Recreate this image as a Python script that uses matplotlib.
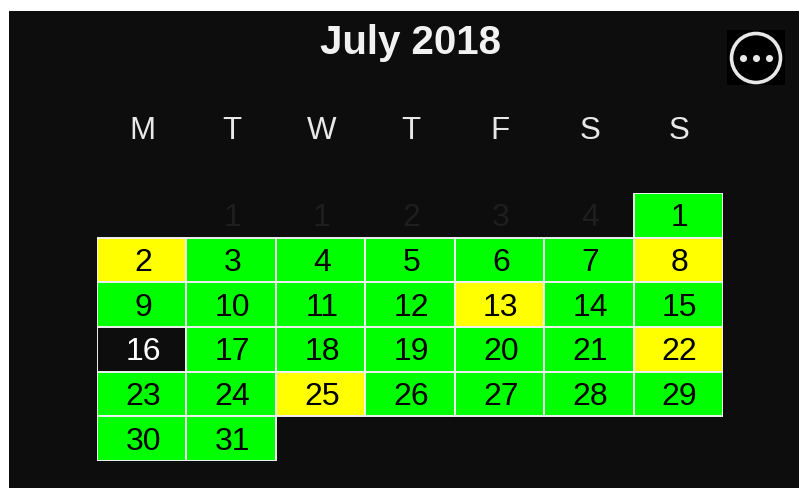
import matplotlib
matplotlib.use("Agg")
import matplotlib.pyplot as plt
from matplotlib.patches import Circle, Rectangle

plt.rcParams['font.family'] = ['Liberation Sans', 'DejaVu Sans']

W, H = 799, 488

title = 'July 2018'
weekdays = ['M', 'T', 'W', 'T', 'F', 'S', 'S']
prev_labels = ['1', '1', '2', '3', '4']
days = list(range(1, 32))
yellow_days = [2, 8, 13, 22, 25]
black_days = [16]

GREEN = '#00ff00'
YELLOW = '#ffff00'
DARK = '#0d0d0d'

fig = plt.figure(figsize=(W / 100, H / 100), dpi=100, facecolor='white')

# dark panel, leaves the white strip top and left
bg = fig.add_axes([9 / W, 0, (W - 9) / W, (H - 11) / H])
bg.set_facecolor(DARK)
bg.set_xticks([])
bg.set_yticks([])
for s in bg.spines.values():
    s.set_visible(False)

# calendar grid: one unit per cell, row 0 on top
ax = fig.add_axes([97 / W, (H - 461) / H, 626 / W, 268 / H])
ax.set_xlim(0, 7)
ax.set_ylim(6, 0)
ax.axis('off')

for day in days:
    pos = day + 5
    col, row = pos % 7, pos // 7
    if day in yellow_days:
        face, txt = YELLOW, 'black'
    elif day in black_days:
        face, txt = DARK, 'white'
    else:
        face, txt = GREEN, 'black'
    ax.bar(col + 0.5, 1, bottom=row, width=1, color=face,
           edgecolor='#f0f0f0', linewidth=1.4, zorder=2)
    ax.text(col + 0.515, row + 0.565, str(day), ha='center', va='center',
            fontsize=23, color=txt, zorder=3)

# last days of previous month, nearly invisible on the dark panel
for i, label in enumerate(prev_labels):
    ax.text(i + 1.515, 0.565, label, ha='center', va='center',
            fontsize=23, color='#1e1e1e', zorder=1)

for i, label in enumerate(weekdays):
    ax.text(i + 0.51, -1.38, label, ha='center', va='center',
            fontsize=22.5, color='#e8e8e8')

ax.text(3.5, -3.35, title, ha='center', va='center',
        fontsize=29, fontweight='bold', color='#f2f2f2')

# the "more" icon in the corner
icon = fig.add_axes([727 / W, (H - 85) / H, 58 / W, 55 / H])
icon.set_xlim(727, 785)
icon.set_ylim(85, 30)
icon.axis('off')
icon.add_patch(Rectangle((727, 30), 58, 55, facecolor='black', edgecolor='none'))
icon.add_patch(Circle((756, 58), 24.5, facecolor='none', edgecolor='#e8e8e8', linewidth=2.6))
icon.scatter([743, 756, 769], [58, 58, 58], s=26, color='#e8e8e8', linewidths=0)

fig.savefig('out.png', dpi=100, facecolor=fig.get_facecolor())
